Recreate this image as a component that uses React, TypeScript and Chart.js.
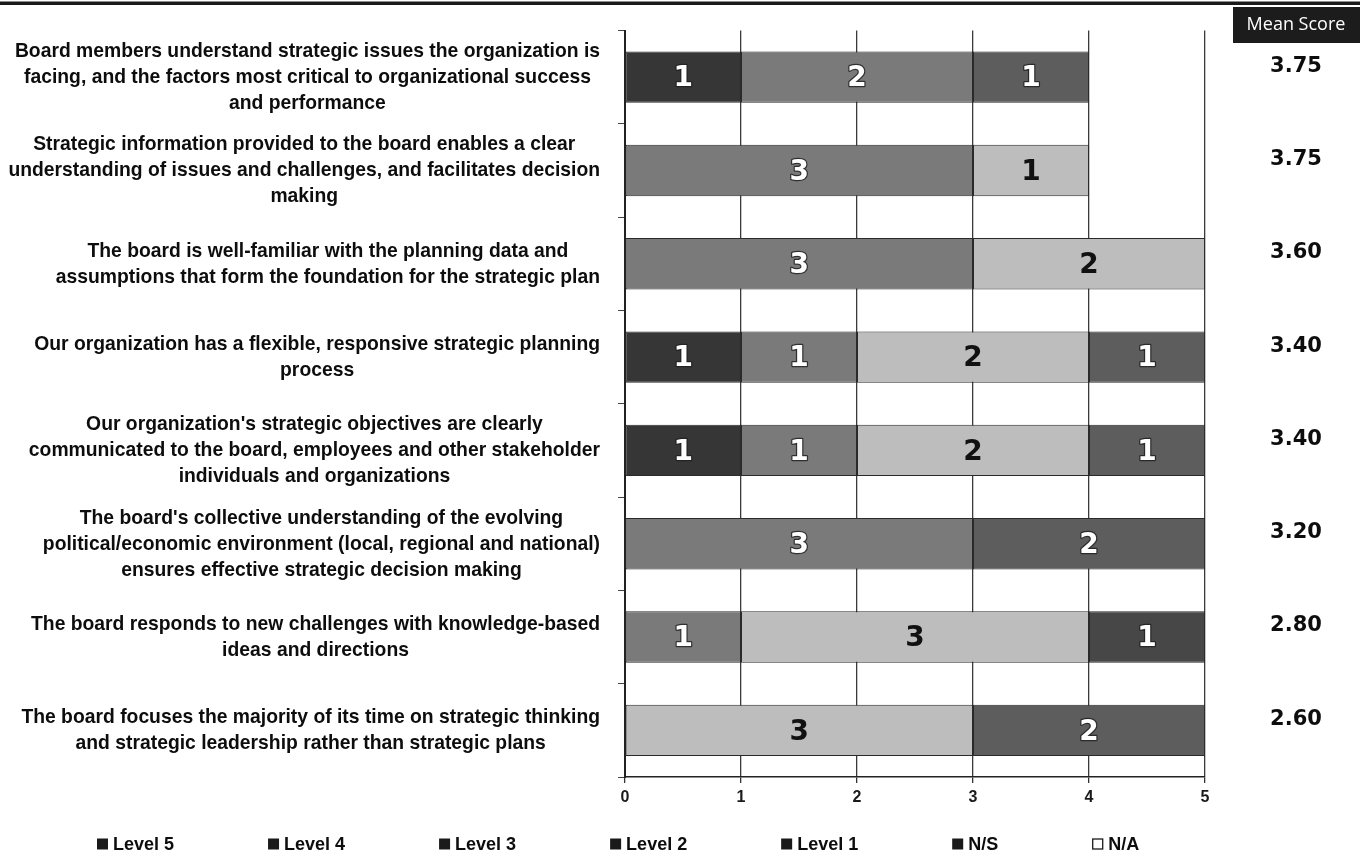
import { useEffect, useRef } from "react";
import { Chart, registerables } from "chart.js";

Chart.register(...registerables);

// Survey statements, one array of display lines per statement (top to bottom)
const statements: string[][] = [
  [
    "Board members understand strategic issues the organization is",
    "facing, and the factors most critical to organizational success",
    "and performance",
  ],
  [
    "Strategic information provided to the board enables a clear",
    "understanding of issues and challenges, and facilitates decision",
    "making",
  ],
  [
    "The board is well-familiar with the planning data and",
    "assumptions that form the foundation for the strategic plan",
  ],
  ["Our organization has a flexible, responsive strategic planning", "process"],
  [
    "Our organization's strategic objectives are clearly",
    "communicated to the board, employees and other stakeholder",
    "individuals and organizations",
  ],
  [
    "The board's collective understanding of the evolving",
    "political/economic environment (local, regional and national)",
    "ensures effective strategic decision making",
  ],
  ["The board responds to new challenges with knowledge-based", "ideas and directions"],
  [
    "The board focuses the majority of its time on strategic thinking",
    "and strategic leadership rather than strategic plans",
  ],
];

// Number of responses per rating level
const level5 = [1, 0, 0, 1, 1, 0, 0, 0];
const level4 = [2, 3, 3, 1, 1, 3, 1, 0];
const level3 = [0, 1, 2, 2, 2, 0, 3, 3];
const level2 = [1, 0, 0, 1, 1, 2, 0, 2];
const level1 = [0, 0, 0, 0, 0, 0, 1, 0];
const notSure = [0, 0, 0, 0, 0, 0, 0, 0];
const notApplicable = [0, 0, 0, 0, 0, 0, 0, 0];

const seriesNames = ["Level 5", "Level 4", "Level 3", "Level 2", "Level 1", "N/S", "N/A"];
const meanScores = ["3.75", "3.75", "3.60", "3.40", "3.40", "3.20", "2.80", "2.60"];
const axisMin = 0;
const axisMax = 5;

// Styling
const seriesFill = ["#363636", "#7a7a7a", "#bdbdbd", "#5d5d5d", "#474747", "#2b2b2b", "#ffffff"];
const valueTextColor = ["#ffffff", "#ffffff", "#111111", "#ffffff", "#ffffff", "#ffffff", "#111111"];
const legendSwatch = ["#1a1a1a", "#1a1a1a", "#1a1a1a", "#1a1a1a", "#1a1a1a", "#1a1a1a", "#ffffff"];

const W = 1360;
const H = 863;
const LABEL_RIGHT = 600;
const LABEL_LINE_H = 26;
const LABEL_SCALE_X = 0.92;
const SANS = '"Liberation Sans", Arial, Helvetica, sans-serif';

const decorPlugin = {
  id: "surveyDecor",
  afterDatasetsDraw(chart: any) {
    const ctx: CanvasRenderingContext2D = chart.ctx;
    // segment counts in the middle of each bar piece
    ctx.save();
    ctx.font = 'bold 28px "DejaVu Sans", Verdana, sans-serif';
    ctx.textAlign = "center";
    ctx.textBaseline = "middle";
    ctx.lineJoin = "round";
    chart.data.datasets.forEach((ds: any, di: number) => {
      const meta = chart.getDatasetMeta(di);
      meta.data.forEach((el: any, i: number) => {
        const v = ds.data[i];
        if (!v) return;
        const cx = (el.x + el.base) / 2;
        const cy = el.y + 2;
        const txt = String(v);
        if (valueTextColor[di] === "#ffffff") {
          ctx.strokeStyle = "rgba(30,30,30,0.8)";
          ctx.lineWidth = 2.5;
          ctx.strokeText(txt, cx, cy);
        }
        ctx.fillStyle = valueTextColor[di];
        ctx.fillText(txt, cx, cy);
      });
    });
    ctx.restore();
  },
  afterDraw(chart: any) {
    const ctx: CanvasRenderingContext2D = chart.ctx;
    const yScale = chart.scales.y;

    // top rule
    ctx.save();
    ctx.fillStyle = "#1a1a1a";
    ctx.fillRect(0, 1.5, W, 3.5);

    // statement labels: block right-aligned, lines centred within block
    ctx.font = `bold 21px ${SANS}`;
    ctx.fillStyle = "#0d0d0d";
    ctx.textAlign = "center";
    ctx.textBaseline = "middle";
    statements.forEach((lines, i) => {
      const cy = yScale.getPixelForValue(i);
      const blockW = Math.max(...lines.map((l) => ctx.measureText(l).width * LABEL_SCALE_X));
      const cx = LABEL_RIGHT - blockW / 2;
      lines.forEach((line, j) => {
        const y = cy + (j - (lines.length - 1) / 2) * LABEL_LINE_H;
        ctx.save();
        ctx.translate(cx, y);
        ctx.scale(LABEL_SCALE_X, 1);
        ctx.fillText(line, 0, 0);
        ctx.restore();
      });
    });

    // mean score header
    ctx.fillStyle = "#1c1c1c";
    ctx.fillRect(1233, 7, W - 1233, 36);
    ctx.fillStyle = "#ffffff";
    ctx.font = '18px "Open Sans", sans-serif';
    ctx.fillText("Mean Score", 1296, 25);

    // mean score values
    ctx.fillStyle = "#0d0d0d";
    ctx.font = 'bold 21px "DejaVu Sans", Verdana, sans-serif';
    meanScores.forEach((m, i) => {
      ctx.fillText(m, 1296, yScale.getPixelForValue(i) - 11);
    });

    // legend
    ctx.font = `bold 18px ${SANS}`;
    ctx.textAlign = "left";
    let x = 97;
    const ly = 844;
    seriesNames.forEach((name, i) => {
      ctx.fillStyle = legendSwatch[i];
      ctx.fillRect(x, ly - 5.5, 11, 11);
      if (legendSwatch[i] === "#ffffff") {
        ctx.strokeStyle = "#1a1a1a";
        ctx.lineWidth = 1.3;
        ctx.strokeRect(x + 0.5, ly - 5, 10, 10);
      }
      ctx.fillStyle = "#0d0d0d";
      ctx.fillText(name, x + 16, ly + 1);
      x += 16 + ctx.measureText(name).width + 94;
    });
    ctx.restore();
  },
};

export default function App() {
  const canvasRef = useRef<HTMLCanvasElement | null>(null);

  useEffect(() => {
    document.body.style.margin = "0";
    const canvas = canvasRef.current;
    if (!canvas) return;

    const seriesData = [level5, level4, level3, level2, level1, notSure, notApplicable];

    const chart = new Chart(canvas, {
      type: "bar",
      data: {
        labels: statements.map((s) => s.join(" ")),
        datasets: seriesNames.map((name, i) => ({
          label: name,
          data: seriesData[i],
          backgroundColor: seriesFill[i],
          borderColor: "#2a2a2a",
          borderWidth: 1,
          borderSkipped: false,
          barPercentage: 0.55,
          categoryPercentage: 1,
        })),
      },
      options: {
        indexAxis: "y",
        animation: false,
        responsive: true,
        maintainAspectRatio: false,
        layout: { padding: { left: 0, right: 155, top: 30.5, bottom: 0 } },
        plugins: {
          legend: { display: false },
          tooltip: { enabled: false },
          title: { display: false },
        },
        scales: {
          x: {
            type: "linear",
            stacked: true,
            min: axisMin,
            max: axisMax,
            ticks: {
              stepSize: 1,
              color: "#1a1a1a",
              padding: 5,
              font: { family: '"Liberation Sans Narrow", "Arial Narrow", ' + SANS, size: 16, weight: "bold" },
            },
            grid: {
              color: "#3a3a3a",
              lineWidth: 1.3,
              drawTicks: true,
              tickLength: 6,
              tickColor: "#333333",
            },
            border: { color: "#222222", width: 1.6 },
            afterFit: (s: any) => {
              s.height = H - 777;
            },
          },
          y: {
            type: "category",
            stacked: true,
            offset: true,
            ticks: { display: false },
            grid: {
              offset: true,
              drawOnChartArea: false,
              drawTicks: true,
              tickLength: 7,
              color: "#444444",
            },
            border: { color: "#222222", width: 2 },
            afterFit: (s: any) => {
              s.width = 625;
            },
          },
        },
      },
      plugins: [decorPlugin],
    });

    return () => chart.destroy();
  }, []);

  return (
    <div style={{ position: "relative", width: W, height: H, background: "#ffffff" }}>
      <canvas ref={canvasRef} />
    </div>
  );
}
